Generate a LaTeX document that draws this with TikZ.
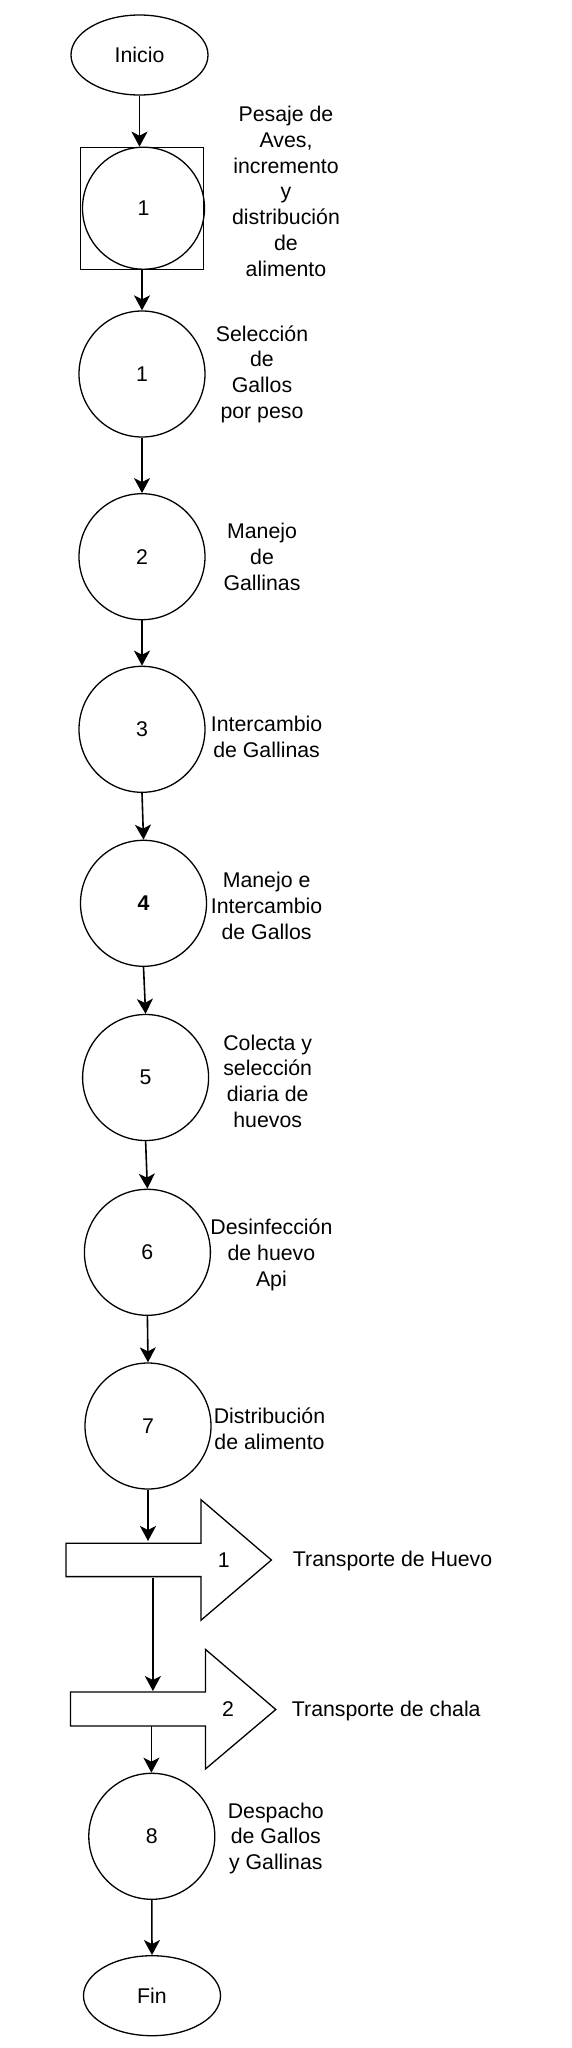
\documentclass[tikz,border=0pt]{standalone}
\usepackage{fontspec}
\setmainfont{Liberation Sans}
\usetikzlibrary{shapes.geometric, arrows.meta}
\tikzstyle{evento}=[ellipse, draw, line width=1.3pt, minimum width=137pt, minimum height=80pt, inner sep=0pt]
\tikzstyle{operacion}=[circle, draw, line width=1.3pt, minimum size=126pt, inner sep=0pt]
\tikzstyle{texto}=[align=center, inner sep=0pt]
\tikzstyle{flecha}=[line width=1.6pt, -{Stealth[length=15pt, width=16pt, inset=4pt]}]

\begin{document}
\begin{tikzpicture}[x=1pt, y=-1pt, font=\fontsize{21.3}{25.7}\selectfont]
\useasboundingbox (0,0) rectangle (572,2048);

\node[evento] (inicio) at (139.5, 55) {Inicio};

\node[draw, line width=1.3pt, minimum width=123pt, minimum height=122pt] (cuadro) at (142, 208.3) {};
\node[operacion, minimum size=122pt] (c1) at (143.5, 208.2) {1};
\node[operacion] (c1b) at (142, 374) {1};
\node[operacion] (c2) at (142, 556.7) {2};
\node[operacion] (c3) at (142, 729.3) {3};
\node[operacion] (c4) at (143.5, 903.3) {\bfseries 4};
\node[operacion] (c5) at (145.6, 1077.5) {5};
\node[operacion] (c6) at (147.4, 1252.3) {6};
\node[operacion] (c7) at (148, 1426) {7};
\node[operacion] (c8) at (151.8, 1836.3) {8};

\node[evento] (fin) at (152, 1995.7) {Fin};

\draw[line width=1.3pt] (66,1543.3) -- (201,1543.3) -- (201,1499.7) -- (271.4,1560) -- (201,1620.2) -- (201,1576.6) -- (66,1576.6) -- cycle;
\node (t1) at (223.7, 1560) {1};
\coordinate (t1arriba) at (148.5, 1541);
\coordinate (t1abajo) at (152.9, 1578);

\draw[line width=1.3pt] (70.4,1692) -- (205.4,1692) -- (205.4,1649.3) -- (275.8,1709.5) -- (205.4,1769) -- (205.4,1726) -- (70.4,1726) -- cycle;
\node (t2) at (228, 1709.5) {2};
\coordinate (t2arriba) at (152.9, 1691);
\coordinate (t2abajo) at (151.4, 1726);

\node[texto] (l1) at (286, 191.3) {Pesaje de\\Aves,\\incremento\\y\\distribución\\de\\alimento};
\node[texto] (l1b) at (262, 374) {Selección\\de\\Gallos\\por peso};
\node[texto] (l2) at (262, 557) {Manejo\\de\\Gallinas};
\node[texto] (l3) at (266.6, 737) {Intercambio\\de Gallinas};
\node[texto] (l4) at (266.6, 906) {Manejo e\\Intercambio\\de Gallos};
\node[texto] (l5) at (267.7, 1081) {Colecta y\\selección\\diaria de\\huevos};
\node[texto] (l6) at (271.4, 1255) {Desinfección\\de huevo\\Api};
\node[texto] (l7) at (269.5, 1428.6) {Distribución\\de alimento};
\node[texto] (lt1) at (392.6, 1561) {Transporte de Huevo};
\node[texto] (lt2) at (386.3, 1711) {Transporte de chala};
\node[texto] (l8) at (275.8, 1838.4) {Despacho\\de Gallos\\y Gallinas};

\draw[flecha] (inicio.south) -- (inicio.south |- cuadro.north);
\draw[flecha] (cuadro.south) -- (cuadro.south |- c1b.north);
\draw[flecha] (c1b.south) -- (c2.north);
\draw[flecha] (c2.south) -- (c3.north);
\draw[flecha] (c3.south) -- (c4.north);
\draw[flecha] (c4.south) -- (c5.north);
\draw[flecha] (c5.south) -- (c6.north);
\draw[flecha] (c6.south) -- (c7.north);
\draw[flecha] (c7.south) -- (c7.south |- t1arriba);
\draw[flecha] (t1abajo) -- (t2arriba);
\draw[flecha] (t2abajo) -- (t2abajo |- c8.north);
\draw[flecha] (c8.south) -- (fin.north);

\end{tikzpicture}
\end{document}
